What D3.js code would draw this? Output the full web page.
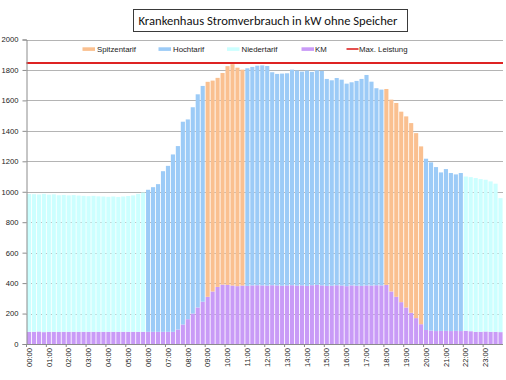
<!DOCTYPE html>
<html>
<head>
<meta charset="utf-8">
<script src="https://cdn.jsdelivr.net/npm/d3@7/dist/d3.min.js"></script>
<style>
  html, body { margin: 0; padding: 0; background: #fff; }
  svg { display: block; }
</style>
</head>
<body>
<svg id="chart" width="506" height="380"></svg>
<script>
// ---------------- data ----------------
const title = "Krankenhaus Stromverbrauch in kW ohne Speicher";

const hourLabels = ["00:00","01:00","02:00","03:00","04:00","05:00","06:00","07:00",
  "08:00","09:00","10:00","11:00","12:00","13:00","14:00","15:00",
  "16:00","17:00","18:00","19:00","20:00","21:00","22:00","23:00"];

const quarters = ["00","15","30","45"];

// total consumption per 15-minute interval (kW)
const total = [
  985, 984, 982, 986, 981, 983, 977, 979, 976, 978, 975, 973, 971, 973, 970, 969,
  967, 969, 966, 969, 972, 976, 986, 995, 1013, 1030, 1050, 1135, 1170, 1245, 1300, 1460,
  1475, 1555, 1640, 1695, 1722, 1730, 1748, 1780, 1825, 1838, 1815, 1802, 1811, 1820, 1828, 1830,
  1826, 1785, 1774, 1776, 1778, 1802, 1796, 1789, 1796, 1787, 1798, 1793, 1741, 1732, 1747, 1736,
  1710, 1719, 1728, 1741, 1767, 1723, 1680, 1671, 1675, 1605, 1583, 1526, 1495, 1451, 1385, 1298,
  1217, 1193, 1162, 1127, 1149, 1123, 1114, 1123, 1100, 1096, 1090, 1083, 1079, 1068, 1053, 958
];

// KM share per 15-minute interval (kW)
const km = [
  80, 80, 82, 78, 80, 80, 79, 80, 80, 80, 80, 80, 80, 80, 80, 80,
  80, 80, 80, 80, 80, 80, 80, 80, 80, 80, 80, 80, 80, 80, 95, 128,
  163, 200, 240, 278, 310, 345, 375, 390, 388, 384, 380, 384, 382, 385, 386, 385,
  384, 386, 385, 383, 385, 386, 384, 385, 382, 386, 388, 385, 382, 383, 386, 384,
  380, 385, 383, 382, 385, 384, 386, 385, 388, 345, 310, 275, 240, 205, 170, 130,
  92, 88, 85, 86, 86, 85, 86, 85, 87, 84, 80, 80, 82, 80, 80, 78
];

// tariff per interval: N = Niedertarif, H = Hochtarif, S = Spitzentarif
const tariff = [
  "N","N","N","N","N","N","N","N","N","N","N","N","N","N","N","N",
  "N","N","N","N","N","N","N","N","H","H","H","H","H","H","H","H",
  "H","H","H","H","S","S","S","S","S","S","S","S","H","H","H","H",
  "H","H","H","H","H","H","H","H","H","H","H","H","H","H","H","H",
  "H","H","H","H","H","H","H","H","S","S","S","S","S","S","S","S",
  "H","H","H","H","H","H","H","H","N","N","N","N","N","N","N","N"
];

const maxLeistung = 1845;

const yTicks = [0, 200, 400, 600, 800, 1000, 1200, 1400, 1600, 1800, 2000];

const legendNames = ["Spitzentarif", "Hochtarif", "Niedertarif", "KM", "Max. Leistung"];

// ---------------- styles ----------------
const colors = { S: "#fac090", H: "#9ccbf7", N: "#ccffff", KM: "#c99bf7", max: "#de2323" };

// ---------------- chart ----------------
const svg = d3.select("#chart");
const W = 506, H = 380;
const plot = { left: 26.5, right: 503, top: 39.5, bottom: 344 };

const times = [];
hourLabels.forEach(h => quarters.forEach(q => times.push(h.slice(0, 3) + q)));

const rows = times.map((t, i) => ({ time: t, km: km[i], rest: total[i] - km[i], tariff: tariff[i] }));

const x = d3.scaleBand().domain(times).range([plot.left, plot.right]).paddingInner(0.17).paddingOuter(0.085);
const y = d3.scaleLinear().domain([0, 2000]).range([plot.bottom, plot.top]);

const stack = d3.stack().keys(["km", "rest"]);
const series = stack(rows);

// gridlines
svg.append("g")
  .selectAll("line")
  .data(yTicks.filter(d => d > 0))
  .join("line")
  .attr("x1", plot.left).attr("x2", plot.right)
  .attr("y1", d => Math.round(y(d)) + 0.5).attr("y2", d => Math.round(y(d)) + 0.5)
  .attr("stroke", "#b4b4b4").attr("stroke-width", 1);

// bars
const barG = svg.append("g");
series.forEach(s => {
  barG.append("g")
    .selectAll("rect")
    .data(s)
    .join("rect")
    .attr("x", d => x(d.data.time))
    .attr("width", x.bandwidth())
    .attr("y", d => y(d[1]))
    .attr("height", d => y(d[0]) - y(d[1]))
    .attr("fill", d => s.key === "km" ? colors.KM : colors[d.data.tariff]);
});

// max line
svg.append("line")
  .attr("x1", plot.left).attr("x2", plot.right)
  .attr("y1", y(maxLeistung)).attr("y2", y(maxLeistung))
  .attr("stroke", colors.max).attr("stroke-width", 2);

// y axis
const yAxis = d3.axisLeft(y).tickValues(yTicks).tickSize(4).tickPadding(4).tickFormat(d3.format("d"));
const yg = svg.append("g").attr("transform", `translate(${plot.left},0)`).call(yAxis);
yg.select(".domain").attr("stroke", "#8c8c8c");
yg.selectAll(".tick line").attr("stroke", "#8c8c8c");
yg.selectAll(".tick text").attr("font-family", "Liberation Sans, Arial, sans-serif")
  .attr("font-size", "7.6px").attr("fill", "#222");

// x axis line
svg.append("line")
  .attr("x1", plot.left).attr("x2", plot.right)
  .attr("y1", plot.bottom + 0.5).attr("y2", plot.bottom + 0.5)
  .attr("stroke", "#8c8c8c");

// x ticks at hour boundaries
const hourStarts = times.filter((t, i) => i % 4 === 0);
const step = x.step();
svg.append("g").selectAll("line")
  .data(hourStarts)
  .join("line")
  .attr("x1", d => x(d) - step * x.paddingInner() / 2)
  .attr("x2", d => x(d) - step * x.paddingInner() / 2)
  .attr("y1", plot.bottom).attr("y2", plot.bottom + 3)
  .attr("stroke", "#8c8c8c");

// x labels (rotated)
svg.append("g").selectAll("text")
  .data(hourStarts)
  .join("text")
  .attr("transform", d => `translate(${x(d) + x.bandwidth() / 2 + 2.7},${plot.bottom + 4}) rotate(-90)`)
  .attr("text-anchor", "end")
  .attr("font-family", "Liberation Sans, Arial, sans-serif")
  .attr("font-size", "7.6px")
  .attr("fill", "#222")
  .text(d => d);

// legend
const legendItems = [
  { name: legendNames[0], color: colors.S, type: "rect", sx: 82.5, tx: 97 },
  { name: legendNames[1], color: colors.H, type: "rect", sx: 158.5, tx: 173 },
  { name: legendNames[2], color: colors.N, type: "rect", sx: 227, tx: 241.5 },
  { name: legendNames[3], color: colors.KM, type: "rect", sx: 301.5, tx: 315 },
  { name: legendNames[4], color: colors.max, type: "line", sx: 346.5, tx: 359 }
];
const lg = svg.append("g");
legendItems.forEach(it => {
  if (it.type === "rect") {
    lg.append("rect").attr("x", it.sx).attr("y", 47.3).attr("width", 12.5).attr("height", 3.6).attr("fill", it.color);
  } else {
    lg.append("line").attr("x1", it.sx).attr("x2", it.sx + 12).attr("y1", 49).attr("y2", 49)
      .attr("stroke", it.color).attr("stroke-width", 1.6);
  }
  lg.append("text").attr("x", it.tx).attr("y", 49).attr("dy", "0.35em")
    .attr("font-family", "Liberation Sans, Arial, sans-serif").attr("font-size", "7.8px")
    .attr("fill", "#222").text(it.name);
});

// title box
svg.append("rect").attr("x", 133.5).attr("y", 9.5).attr("width", 274).attr("height", 22)
  .attr("fill", "#fff").attr("stroke", "#3a3a3a").attr("stroke-width", 1);
svg.append("text").attr("x", 138.5).attr("y", 20.8).attr("dy", "0.35em")
  .attr("font-family", "Carlito, Calibri, Lato, sans-serif").attr("font-size", "13px")
  .attr("textLength", 259).attr("lengthAdjust", "spacingAndGlyphs")
  .attr("fill", "#111").text(title);
</script>
</body>
</html>
